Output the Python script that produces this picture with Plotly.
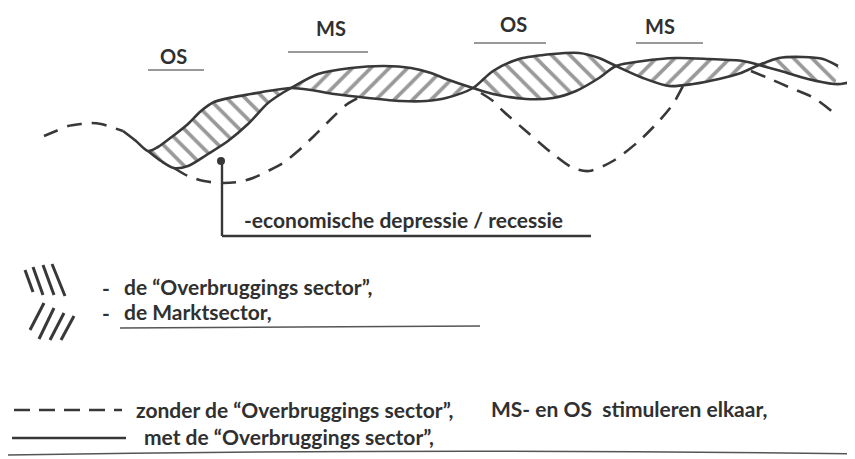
import plotly.graph_objects as go

# ---------------- data (time index, activity level) ----------------
# solid curve A ("met de Overbruggings sector", first branch)
TIME_A = [122, 135, 147, 157, 172, 187, 200, 213, 233, 250, 267, 290, 310, 333, 367, 400,
          425, 445, 472, 492, 518, 552, 578, 598, 615, 642, 668, 692, 718, 740, 758, 778,
          802, 822, 837]
LEVEL_A = [329, 319, 309, 313, 324, 336, 349, 358, 363, 366, 369, 372, 370, 366, 362, 359,
           359, 362, 372, 389, 401, 406, 407, 402, 394, 382, 374, 376, 381, 387, 395, 402,
           403, 401, 394]

# solid curve B (second branch)
TIME_B = [147, 160, 173, 187, 207, 227, 247, 267, 283, 290, 317, 350, 383, 410, 430, 445,
          472, 492, 525, 552, 575, 598, 615, 642, 675, 708, 742, 758, 780, 807, 833, 840]
LEVEL_B = [309, 299, 292, 294, 306, 319, 336, 357, 368, 372, 386, 392, 394, 392, 387, 381,
           372, 366, 361, 362, 369, 382, 394, 399, 402, 401, 399, 395, 389, 381, 376, 376]

# dashed curve ("zonder de Overbruggings sector"), drawn where it leaves the solid curve
TIME_NO_OS = [43, 55, 67, 80, 90, 100, 110, 122, None,
              173, 187, 203, 220, 237, 252, 267, 282, 297, 313, 330, 345, 357, None,
              480, 492, 502, 525, 552, 572, 588, 612, 638, 658, 672, 682, None,
              750, 767, 790, 813, 838, None,
              840, 855]
LEVEL_NO_OS = [324, 329, 334, 336, 337, 336, 333, 329, None,
               292, 284, 279, 277, 278, 282, 289, 297, 309, 324, 341, 355, 362, None,
               367, 359, 349, 329, 306, 292, 289, 299, 319, 339, 356, 374, None,
               389, 382, 372, 362, 343, None,
               376, 379]

# hatched lenses between the two solid curves: (start, end, sector)
LENS_START = [147, 290, 472, 615, 758]
LENS_END = [290, 472, 615, 758, 837]
LENS_SECTOR = ["OS", "MS", "OS", "MS", "OS"]

PHASE_LABELS = ["OS", "MS", "OS", "MS"]
DEPRESSION_TIME = 220
DEPRESSION_LEVEL = 299

# ---------------- figure ----------------
W, H = 855, 459
INK = "#383838"
TXT = "#303030"
FONT = "Lato"
FS = 21

fig = go.Figure()

PATTERN = {"OS": "\\", "MS": "/"}
for x0, x1, sec in zip(LENS_START, LENS_END, LENS_SECTOR):
    upper = [(t, v) for t, v in zip(TIME_A, LEVEL_A) if x0 <= t <= x1]
    lower = [(t, v) for t, v in zip(TIME_B, LEVEL_B) if x0 <= t <= x1]
    pts = upper + lower[::-1]
    fig.add_trace(go.Scatter(
        x=[p[0] for p in pts], y=[p[1] for p in pts],
        mode="lines", fill="toself", line=dict(width=0, shape="spline", smoothing=0.8),
        fillcolor="rgba(0,0,0,0)",
        fillpattern=dict(shape=PATTERN[sec], fgcolor="#333333", bgcolor="rgba(0,0,0,0)",
                         size=13, solidity=0.28),
        hoverinfo="skip", showlegend=False))

fig.add_trace(go.Scatter(x=TIME_A, y=LEVEL_A, mode="lines",
                         line=dict(color=INK, width=2.6, shape="spline", smoothing=0.8),
                         showlegend=False))
fig.add_trace(go.Scatter(x=TIME_B, y=LEVEL_B, mode="lines",
                         line=dict(color=INK, width=2.6, shape="spline", smoothing=0.8),
                         showlegend=False))
fig.add_trace(go.Scatter(x=TIME_NO_OS, y=LEVEL_NO_OS, mode="lines", connectgaps=False,
                         line=dict(color=INK, width=2.6, shape="spline", smoothing=0.8,
                                   dash="15px,10px"),
                         showlegend=False))
fig.add_trace(go.Scatter(x=[DEPRESSION_TIME], y=[DEPRESSION_LEVEL], mode="markers",
                         marker=dict(color=INK, size=8), showlegend=False))


def Y(py):
    return H - py


shapes = []
annotations = []


def line(x0, py0, x1, py1, width=2.2, color=INK, dash=None, paper=False):
    if paper:
        d = dict(type="line", xref="paper", yref="paper", x0=x0 / W, y0=1 - py0 / H,
                 x1=x1 / W, y1=1 - py1 / H, line=dict(color=color, width=width))
    else:
        d = dict(type="line", xref="x", yref="y", x0=x0, y0=Y(py0), x1=x1, y1=Y(py1),
                 line=dict(color=color, width=width))
    if dash:
        d["line"]["dash"] = dash
    shapes.append(d)


def text(t, x, py, size=FS, xanchor="left", paper=False):
    a = dict(text=t, showarrow=False, xanchor=xanchor, yanchor="middle",
             font=dict(family=FONT, size=size, color=TXT, weight="bold"))
    if paper:
        a.update(x=x / W, y=1 - py / H, xref="paper", yref="paper")
    else:
        a.update(x=x, y=Y(py), xref="x", yref="y")
    annotations.append(a)


# phase labels with underlines (chart coordinates)
label_pos = [(172, 55, 147, 203, 69), (330, 27, 287, 367, 51),
             (512, 23, 473, 545, 42), (659, 25, 635, 702, 42)]
for lab, (cx, cy, u0, u1, uy) in zip(PHASE_LABELS, label_pos):
    text(lab, cx, cy, size=20, xanchor="center")
    line(u0, uy, u1, uy, width=1.5, color="#777777")

# depression pointer
line(DEPRESSION_TIME + 1, H - DEPRESSION_LEVEL, DEPRESSION_TIME + 1, 235, width=2.4)
line(DEPRESSION_TIME + 1, 235, 590, 235, width=2.6)
text("-economische depressie / recessie", 241, 218)

# ---------------- legend (page coordinates) ----------------
for (ax0, ay0, ax1, ay1) in [(17, 262, 25, 284), (25, 259, 35, 287), (35, 257, 46, 287), (44, 256, 57, 288)]:
    line(ax0, ay0, ax1, ay1, width=3, paper=True)
for (ax0, ay0, ax1, ay1) in [(22, 322, 36, 295), (31, 331, 46, 300), (42, 332, 56, 305), (53, 332, 66, 308)]:
    line(ax0, ay0, ax1, ay1, width=3, paper=True)

text("-", 92, 279, paper=True)
text("-", 92, 304, paper=True)
text("de \u201cOverbruggings sector\u201d,", 114, 278, paper=True)
text("de Marktsector,", 114, 303, paper=True)
line(112, 320, 472, 318, width=1.6, color="#555555", paper=True)

line(6, 402, 114, 402, width=2.4, dash="16px,9px", paper=True)
text("zonder de \u201cOverbruggings sector\u201d,", 126, 401, paper=True)
text("MS- en OS  stimuleren elkaar,", 481, 400, paper=True)
line(4, 430, 118, 430, width=2.4, paper=True)
text("met de \u201cOverbruggings sector\u201d,", 134, 428, paper=True)
shapes.append(dict(type="path", xref="paper", yref="paper",
                   path=f"M 0 {1 - 447 / H} Q 0.5 {1 - 440 / H} 1 {1 - 446 / H}",
                   line=dict(color="#555555", width=1.6)))

fig.update_layout(
    width=W, height=H, margin=dict(l=0, r=0, t=0, b=0),
    paper_bgcolor="white", plot_bgcolor="white", showlegend=False,
    xaxis=dict(range=[7, W + 7], visible=False, fixedrange=True),
    yaxis=dict(range=[-7, H - 7], visible=False, fixedrange=True),
    shapes=shapes, annotations=annotations,
)

fig.write_html("out.html")
